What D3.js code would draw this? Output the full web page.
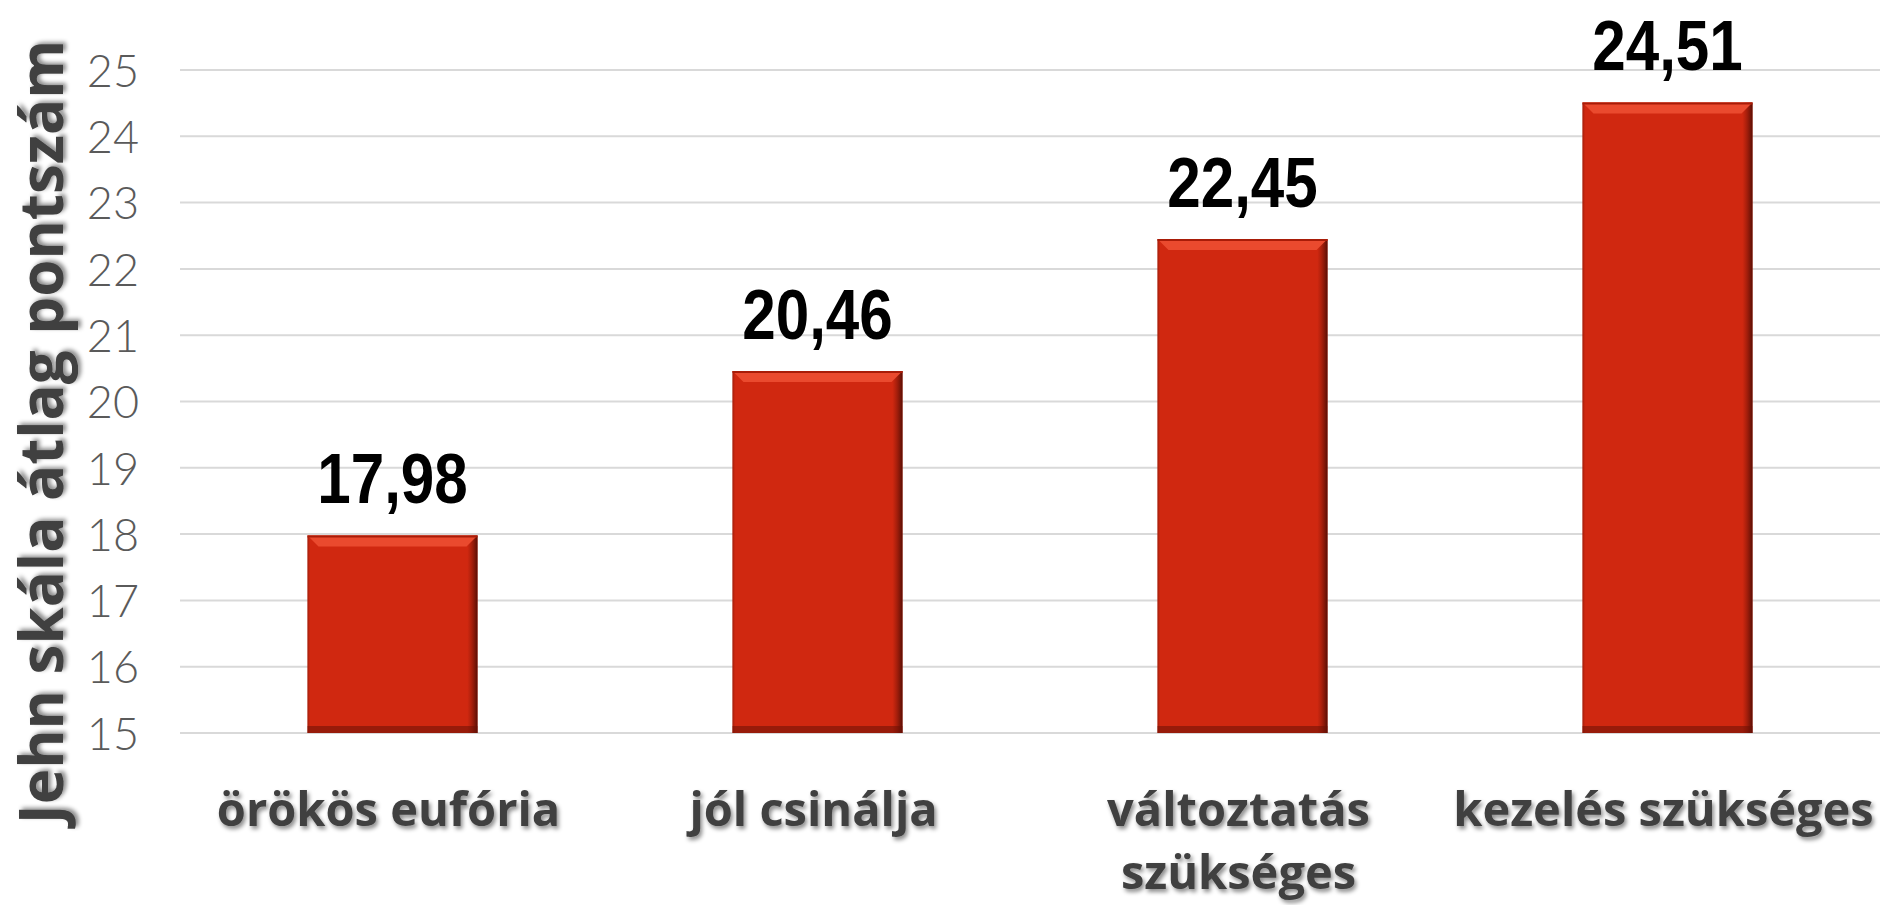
<!DOCTYPE html>
<html>
<head>
<meta charset="utf-8">
<script src="https://cdn.jsdelivr.net/npm/d3@7"></script>
<style>
  html, body { margin: 0; padding: 0; background: #fff; }
  svg { display: block; }
</style>
</head>
<body>
<div id="chart"></div>
<script>
'use strict';

// DATA
var categories = [['örökös eufória'], ['jól csinálja'], ['változtatás', 'szükséges'], ['kezelés szükséges']];
var values = [17.98, 20.46, 22.45, 24.51];
var valueLabels = ['17,98', '20,46', '22,45', '24,51'];
var yTicks = [15, 16, 17, 18, 19, 20, 21, 22, 23, 24, 25];
var yTitle = 'Jehn skála átlag pontszám';

var stage = { width: 1880, height: 905 };
var plot = { left: 180, right: 1880, top: 70, bottom: 733 };

var svg = d3.select('#chart')
    .append('svg')
    .attr('width', stage.width)
    .attr('height', stage.height)
    .attr('xmlns', 'http://www.w3.org/2000/svg');

var defs = svg.append('defs');

var shadow = defs.append('filter').attr('id', 'txtShadow')
    .attr('x', '-10%').attr('y', '-20%').attr('width', '130%').attr('height', '160%');
shadow.append('feDropShadow')
    .attr('dx', 2).attr('dy', 3).attr('stdDeviation', 2)
    .attr('flood-color', '#000').attr('flood-opacity', 0.45);

// right edge darkening
var gradSide = defs.append('linearGradient').attr('id', 'barSide')
    .attr('x1', 0).attr('x2', 1).attr('y1', 0).attr('y2', 0);
gradSide.append('stop').attr('offset', 0).attr('stop-color', '#7a1406').attr('stop-opacity', 0.55);
gradSide.append('stop').attr('offset', 0.015).attr('stop-color', '#7a1406').attr('stop-opacity', 0);
gradSide.append('stop').attr('offset', 0.94).attr('stop-color', '#7a1406').attr('stop-opacity', 0);
gradSide.append('stop').attr('offset', 1).attr('stop-color', '#4a0b03').attr('stop-opacity', 0.9);

var x = d3.scaleBand()
    .domain(d3.range(values.length))
    .range([plot.left, plot.right])
    .paddingInner(0.6)
    .paddingOuter(0.3);

var y = d3.scaleLinear()
    .domain([15, 25])
    .range([plot.bottom, plot.top]);

// GRID
svg.append('g')
    .attr('class', 'grid')
    .selectAll('line').data(yTicks).enter()
    .append('line')
    .attr('x1', plot.left)
    .attr('x2', plot.right)
    .attr('y1', function(d) { return y(d); })
    .attr('y2', function(d) { return y(d); })
    .attr('stroke', '#d9d9d9')
    .attr('stroke-width', 2);

// Y AXIS labels
var yAxis = d3.axisLeft(y).tickValues(yTicks).tickSize(0).tickPadding(0);
var yAxisG = svg.append('g')
    .attr('transform', 'translate(' + 139 + ',0)')
    .call(yAxis);
yAxisG.select('.domain').remove();
yAxisG.selectAll('text')
    .attr('fill', '#5a5a5a')
    .style('font-family', 'Lato, "Open Sans", sans-serif')
    .style('font-weight', 300)
    .style('font-size', '45px')
    .attr('dy', '0.36em');

// Y TITLE
svg.append('text')
    .attr('transform', 'translate(63,' + 432 + ') rotate(-90)')
    .attr('text-anchor', 'middle')
    .attr('fill', '#404040')
    .attr('filter', 'url(#txtShadow)')
    .style('font-family', '"Open Sans", sans-serif')
    .style('font-weight', 700)
    .style('font-size', '60px')
    .text(yTitle);

// BARS
var bars = svg.append('g').attr('class', 'bars')
    .selectAll('g').data(values).enter()
    .append('g');

bars.append('rect')
    .attr('x', function(d, i) { return x(i); })
    .attr('y', function(d) { return y(d); })
    .attr('width', x.bandwidth())
    .attr('height', function(d) { return y(15) - y(d); })
    .attr('fill', '#d02810');

bars.append('rect')
    .attr('x', function(d, i) { return x(i); })
    .attr('y', function(d) { return y(d); })
    .attr('width', x.bandwidth())
    .attr('height', function(d) { return y(15) - y(d); })
    .attr('fill', 'url(#barSide)');

// bottom shade
bars.append('rect')
    .attr('x', function(d, i) { return x(i); })
    .attr('y', y(15) - 7)
    .attr('width', x.bandwidth())
    .attr('height', 7)
    .attr('fill', '#6a1005')
    .attr('opacity', 0.55);

// top bevel
var bevel = 11;
bars.append('path')
    .attr('d', function(d, i) {
        var x0 = x(i), x1 = x(i) + x.bandwidth(), y0 = y(d);
        return 'M' + x0 + ',' + y0 + 'L' + x1 + ',' + y0 +
            'L' + (x1 - bevel) + ',' + (y0 + bevel) + 'L' + (x0 + bevel) + ',' + (y0 + bevel) + 'Z';
    })
    .attr('fill', '#ea4a2e');

bars.append('line')
    .attr('x1', function(d, i) { return x(i); })
    .attr('x2', function(d, i) { return x(i) + x.bandwidth(); })
    .attr('y1', function(d) { return y(d) + 1; })
    .attr('y2', function(d) { return y(d) + 1; })
    .attr('stroke', '#a81c08')
    .attr('stroke-width', 2);

// VALUE LABELS (narrowed Arial-like bold)
svg.append('g').attr('class', 'values')
    .selectAll('text').data(values).enter()
    .append('text')
    .attr('transform', function(d, i) {
        return 'translate(' + (x(i) + x.bandwidth() / 2) + ',' + (y(d) - 32) + ') scale(0.86,1)';
    })
    .attr('text-anchor', 'middle')
    .attr('fill', '#000')
    .style('font-family', '"Liberation Sans", Arial, sans-serif')
    .style('font-weight', 700)
    .style('font-size', '70px')
    .text(function(d, i) { return valueLabels[i]; });

// CATEGORY LABELS
var cat = svg.append('g').attr('class', 'categories')
    .selectAll('text').data(categories).enter()
    .append('text')
    .attr('transform', function(d, i) {
        return 'translate(' + (x(i) + x.bandwidth() / 2 - 4) + ',' + 826 + ')';
    })
    .attr('text-anchor', 'middle')
    .attr('fill', '#404040')
    .attr('filter', 'url(#txtShadow)')
    .style('font-family', '"Open Sans", sans-serif')
    .style('font-weight', 700)
    .style('font-size', '47px');

cat.selectAll('tspan').data(function(d) { return d; }).enter()
    .append('tspan')
    .attr('x', 0)
    .attr('dy', function(d, j) { return j === 0 ? 0 : 63; })
    .text(function(d) { return d; });
</script>
</body>
</html>
